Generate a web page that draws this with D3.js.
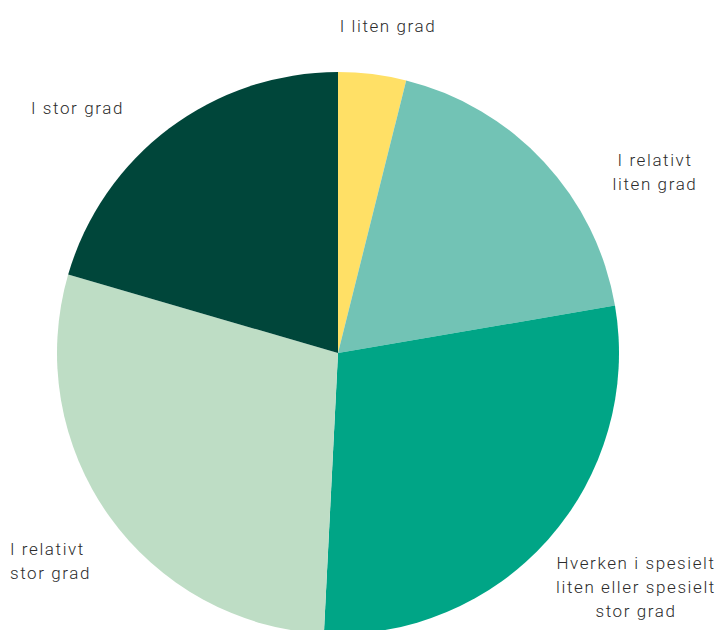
<!DOCTYPE html>
<html>
<head>
<meta charset="utf-8">
<script src="https://cdn.jsdelivr.net/npm/d3@7"></script>
<style>
  html, body { margin: 0; padding: 0; background: #fff; }
  svg text { font-family: "Roboto", "Open Sans", sans-serif; font-weight: 300; font-size: 17px; letter-spacing: 1.6px; fill: #2b2b2b; }
</style>
</head>
<body>
<svg id="chart" width="721" height="630"></svg>
<script>
// Share of respondents per answer (percent), clockwise from 12 o'clock
const categories = [
  "I liten grad",
  "I relativt liten grad",
  "Hverken i spesielt liten eller spesielt stor grad",
  "I relativt stor grad",
  "I stor grad"
];
const values = [3.9, 18.4, 28.5, 28.7, 20.5];
const colors = ["#FFE066", "#72C3B5", "#00A586", "#BEDDC5", "#00463A"];

// Label text broken into lines
const labelLines = [
  ["I liten grad"],
  ["I relativt", "liten grad"],
  ["Hverken i spesielt", "liten eller spesielt", "stor grad"],
  ["I relativt", "stor grad"],
  ["I stor grad"]
];

const svg = d3.select("#chart");
const cx = 338, cy = 353, r = 281;

const pie = d3.pie().sort(null).value(d => d)(values);
const arc = d3.arc().innerRadius(0).outerRadius(r);

const g = svg.append("g").attr("transform", `translate(${cx},${cy})`);
g.selectAll("path")
  .data(pie)
  .join("path")
  .attr("d", arc)
  .attr("fill", (d, i) => colors[i]);

// Label placement: anchor point + text alignment per slice
const labelLayout = [
  { x: 388, y: 32, anchor: "middle" },
  { x: 655, y: 166, anchor: "middle" },
  { x: 636, y: 569, anchor: "middle" },
  { x: 10, y: 555, anchor: "start" },
  { x: 31, y: 114, anchor: "start" }
];
const lineH = 24;

categories.forEach((c, i) => {
  const L = labelLayout[i];
  const t = svg.append("text")
    .attr("x", L.x)
    .attr("y", L.y)
    .attr("text-anchor", L.anchor);
  labelLines[i].forEach((line, j) => {
    t.append("tspan").attr("x", L.x).attr("dy", j === 0 ? 0 : lineH).text(line);
  });
});
</script>
</body>
</html>
